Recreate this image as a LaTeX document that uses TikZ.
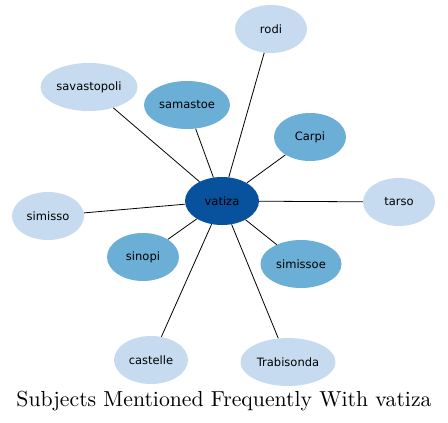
\documentclass[tikz,border=0pt]{standalone}
\usepackage{fontspec}
\usepackage{graphicx}
\newfontfamily\nodefont{DejaVu Sans}
\usetikzlibrary{shapes.geometric}
\definecolor{lightb}{HTML}{C6DBEF}
\definecolor{medb}{HTML}{6BAED6}
\definecolor{darkb}{HTML}{08519C}
\tikzset{
  ell/.style={ellipse, inner sep=0pt, font=\nodefont\fontsize{11.5}{13}\selectfont},
  lightn/.style={ell, fill=lightb},
  medn/.style={ell, fill=medb},
  darkn/.style={ell, fill=darkb},
  conn/.style={draw=black, line width=0.8pt}
}
\begin{document}
\begin{tikzpicture}[x=1pt,y=-1pt]
\useasboundingbox (0,0) rectangle (448,423);
\node[darkn, minimum width=74pt, minimum height=48pt] (vatiza) at (222,201) {vatiza};
\node[lightn, minimum width=72pt, minimum height=48pt] (rodi) at (271,29) {rodi};
\node[lightn, minimum width=97pt, minimum height=48pt] (savastopoli) at (89,87) {savastopoli};
\node[medn, minimum width=86pt, minimum height=48pt] (samastoe) at (187,105) {samastoe};
\node[medn, minimum width=72pt, minimum height=48pt] (Carpi) at (310,137) {Carpi};
\node[lightn, minimum width=72pt, minimum height=48pt] (tarso) at (399,202) {tarso};
\node[lightn, minimum width=72pt, minimum height=48pt] (simisso) at (48,216) {simisso};
\node[medn, minimum width=72pt, minimum height=48pt] (sinopi) at (143,257) {sinopi};
\node[medn, minimum width=81pt, minimum height=48pt] (simissoe) at (301,264) {simissoe};
\node[lightn, minimum width=74pt, minimum height=48pt] (castelle) at (151,360) {castelle};
\node[lightn, minimum width=95pt, minimum height=48pt] (Trabisonda) at (288,362) {Trabisonda};
\foreach \n in {rodi,savastopoli,samastoe,Carpi,tarso,simisso,sinopi,simissoe,castelle,Trabisonda}
  \draw[conn] (vatiza) -- (\n);
\node (title) at (224,401) {\resizebox{415pt}{!}{Subjects Mentioned Frequently With vatiza}};
\end{tikzpicture}
\end{document}
